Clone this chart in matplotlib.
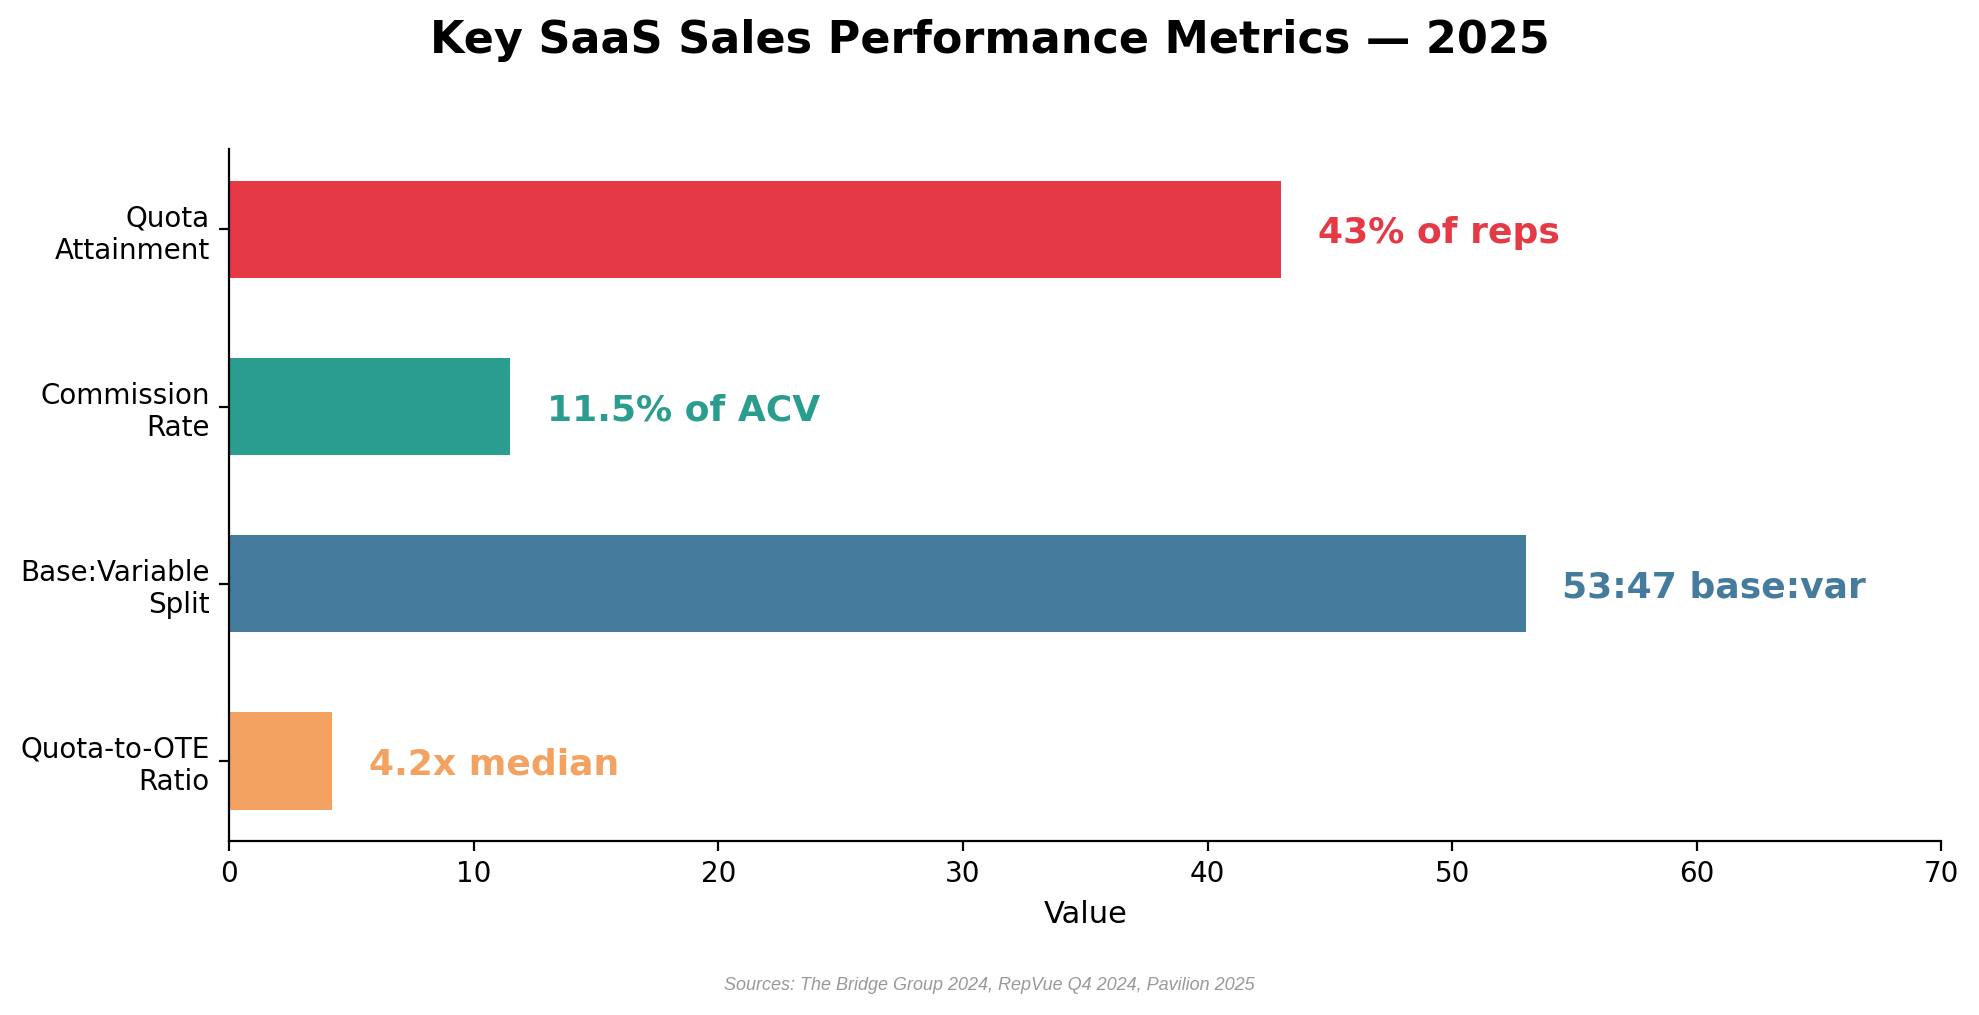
import matplotlib
matplotlib.use("Agg")
import matplotlib.pyplot as plt

metrics = ["Quota\nAttainment", "Commission\nRate", "Base:Variable\nSplit", "Quota-to-OTE\nRatio"]
values = [43, 11.5, 53, 4.2]
value_labels = ["43% of reps", "11.5% of ACV", "53:47 base:var", "4.2x median"]
colors = ["#E63946", "#2A9D8F", "#457B9D", "#F4A261"]


def main():
    fig, ax = plt.subplots(figsize=(1979 / 200, 1015 / 200), dpi=200)
    fig.subplots_adjust(left=0.1158, right=0.981, top=0.853, bottom=0.1714)

    ypos = range(len(metrics))
    ax.barh(ypos, values, height=0.55, color=colors)
    ax.set_yticks(list(ypos))
    ax.set_yticklabels(metrics, fontsize=10)
    ax.invert_yaxis()

    for y, v, lab, c in zip(ypos, values, value_labels, colors):
        ax.text(v + 1.5, y, lab, va="center_baseline", ha="left", color=c,
                fontsize=13, fontweight="bold")

    ax.set_xlim(0, 70)
    ax.tick_params(axis="x", labelsize=10)
    ax.set_xlabel("Value", fontsize=11)
    ax.spines["top"].set_visible(False)
    ax.spines["right"].set_visible(False)

    fig.suptitle("Key SaaS Sales Performance Metrics \u2014 2025",
                 fontsize=16, fontweight="bold", y=0.96, va="center")
    fig.text(0.5, 0.029, "Sources: The Bridge Group 2024, RepVue Q4 2024, Pavilion 2025",
             ha="center", va="center", fontsize=6.5, style="italic",
             color="#999999", family="Liberation Sans")

    fig.savefig("out.png", dpi=200)


if __name__ == '__main__':
    main()
